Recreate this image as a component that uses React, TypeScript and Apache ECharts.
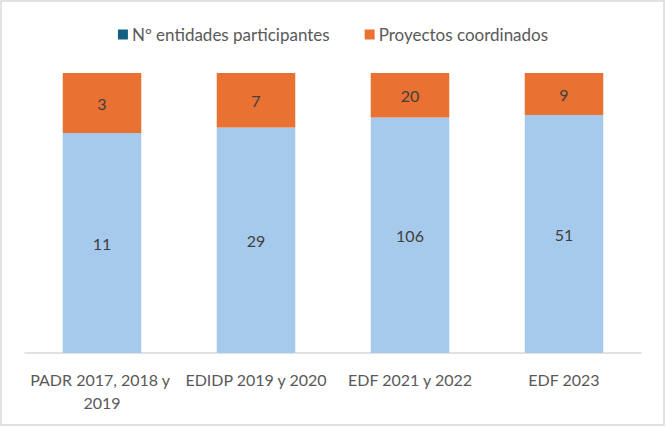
import React, { useEffect, useRef } from "react";
import * as echarts from "echarts";

const categories = ["PADR 2017, 2018 y 2019", "EDIDP 2019 y 2020", "EDF 2021 y 2022", "EDF 2023"];
const entidades = [11, 29, 106, 51];
const proyectos = [3, 7, 20, 9];
const seriesNames = ["Nº entidades participantes", "Proyectos coordinados"];

export default function App() {
  const ref = useRef<HTMLDivElement>(null);
  useEffect(() => {
    document.body.style.margin = "0";
    const chart = echarts.init(ref.current!, undefined, { renderer: "svg" });
    const totals = entidades.map((v, i) => v + proyectos[i]);
    const font = "Lato, 'Open Sans', sans-serif";
    chart.setOption({
      animation: false,
      textStyle: { fontFamily: font },
      graphic: [
        {
          type: "rect",
          shape: { x: 1, y: 1, width: 663, height: 424 },
          style: { fill: "none", stroke: "#D9D9D9", lineWidth: 1.5 },
          silent: true,
        },
      ],
      legend: {
        top: 21,
        left: "center",
        icon: "rect",
        itemWidth: 10,
        itemHeight: 10,
        itemGap: 35,
        textStyle: { color: "#595959", fontSize: 17, fontFamily: font, padding: [0, 0, 0, -1] },
        data: [
          { name: seriesNames[0], itemStyle: { color: "#156082" } },
          { name: seriesNames[1], itemStyle: { color: "#E97132" } },
        ],
      },
      grid: { left: 25, right: 25, top: 73, bottom: 74, containLabel: false },
      xAxis: {
        type: "category",
        data: categories,
        axisLine: { lineStyle: { color: "#D9D9D9", width: 1.5 } },
        axisTick: { show: false },
        axisLabel: {
          color: "#595959",
          fontSize: 16,
          fontFamily: font,
          margin: 15,
          lineHeight: 23,
          width: 150,
          overflow: "break",
          interval: 0,
        },
      },
      yAxis: { type: "value", min: 0, max: 100, show: false, splitLine: { show: false } },
      series: [
        {
          name: seriesNames[0],
          type: "bar",
          stack: "t",
          barWidth: "51%",
          itemStyle: { color: "#A6CAEC" },
          data: entidades.map((v, i) => (v / totals[i]) * 100),
          label: {
            show: true,
            position: "inside",
            color: "#404040",
            fontSize: 16,
            fontFamily: font,
            formatter: (p: any) => String(entidades[p.dataIndex]),
          },
        },
        {
          name: seriesNames[1],
          type: "bar",
          stack: "t",
          barWidth: "51%",
          itemStyle: { color: "#E97132" },
          data: proyectos.map((v, i) => (v / totals[i]) * 100),
          label: {
            show: true,
            position: "inside",
            color: "#404040",
            fontSize: 16,
            fontFamily: font,
            formatter: (p: any) => String(proyectos[p.dataIndex]),
          },
        },
      ],
    });
    return () => chart.dispose();
  }, []);
  return <div ref={ref} style={{ width: 666, height: 427 }} />;
}
